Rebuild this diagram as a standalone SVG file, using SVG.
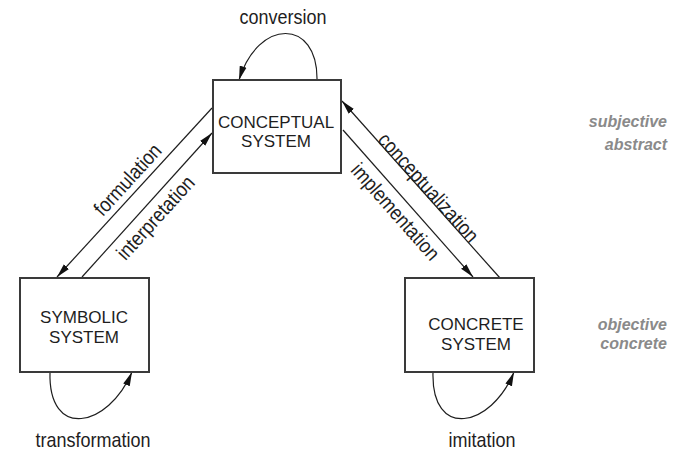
<svg xmlns="http://www.w3.org/2000/svg" width="673" height="452" viewBox="0 0 673 452">
  <style>
    .box { fill: #ffffff; stroke: #3a3a3a; stroke-width: 2; }
    .lbl { font-family: "Liberation Sans", Arial, sans-serif; font-size: 18px; fill: #1e1e1e; text-anchor: middle; }
    .node { font-family: "Liberation Sans", Arial, sans-serif; font-size: 17px; fill: #1e1e1e; text-anchor: middle; }
    .side { font-family: "Liberation Sans", Arial, sans-serif; font-size: 16px; font-weight: bold; font-style: italic; fill: #8a8a8a; text-anchor: end; }
    .edge { fill: none; stroke: #1e1e1e; stroke-width: 1.2; marker-end: url(#arrow); }
  </style>
  <defs>
    <marker id="arrow" markerUnits="userSpaceOnUse" markerWidth="14" markerHeight="8" viewBox="0 0 14 8" refX="14" refY="4" orient="auto">
      <path d="M0,0.5 L14,4 L0,7.5 Z" fill="#111111"/>
    </marker>
  </defs>

  <!-- connectors -->
  <g id="connectors">
    <path class="edge" d="M317,80 C318,18 258,18 239,80"/>
    <path class="edge" d="M212,108 L57,277"/>
    <path class="edge" d="M82,277 L212,133"/>
    <path class="edge" d="M343,130 L473,277"/>
    <path class="edge" d="M500,278 L342,101"/>
    <path class="edge" d="M50,372 C48,440 108,428 132,372"/>
    <path class="edge" d="M433,372 C431,440 491,428 514,372"/>
  </g>

  <!-- edge labels -->
  <g id="edge-labels">
    <text class="lbl" transform="translate(283,24) scale(1,1.15)">conversion</text>
    <text class="lbl" transform="translate(132.8,184.4) rotate(-47.5) scale(1,1.15)">formulation</text>
    <text class="lbl" transform="translate(160.8,222.4) rotate(-47.9) scale(1,1.15)">interpretation</text>
    <text class="lbl" transform="translate(423.2,192.3) rotate(48.1) scale(1,1.15)">conceptualization</text>
    <text class="lbl" transform="translate(390.2,216.3) rotate(48.5) scale(1,1.15)">implementation</text>
    <text class="lbl" transform="translate(93,447) scale(1,1.15)">transformation</text>
    <text class="lbl" transform="translate(482,447) scale(1,1.15)">imitation</text>
  </g>

  <g id="conceptual-system">
    <rect class="box" x="213" y="80" width="128" height="93"/>
    <text class="node" x="276" y="127.5">CONCEPTUAL</text>
    <text class="node" x="276" y="147">SYSTEM</text>
  </g>

  <g id="symbolic-system">
    <rect class="box" x="20" y="278" width="129" height="94"/>
    <text class="node" x="84" y="323">SYMBOLIC</text>
    <text class="node" x="84" y="342.5">SYSTEM</text>
  </g>

  <g id="concrete-system">
    <rect class="box" x="405" y="278" width="129" height="94"/>
    <text class="node" x="476" y="330">CONCRETE</text>
    <text class="node" x="476" y="349.5">SYSTEM</text>
  </g>

  <g id="level-labels">
    <text class="side" x="667" y="127">subjective</text>
    <text class="side" x="667" y="150">abstract</text>
    <text class="side" x="667" y="329.5">objective</text>
    <text class="side" x="667" y="348.5">concrete</text>
  </g>
</svg>
